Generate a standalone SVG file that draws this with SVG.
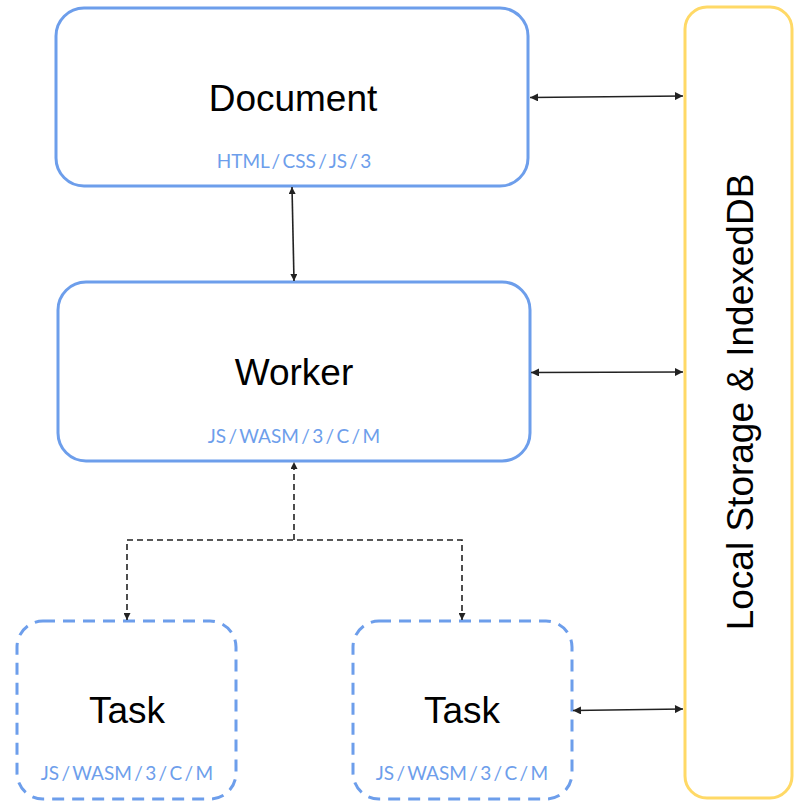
<svg xmlns="http://www.w3.org/2000/svg" width="802" height="802" viewBox="0 0 802 802">
<style>
.box{fill:#fff;stroke:#6d9eeb;stroke-width:3}
.dash{stroke-dasharray:12 8}
.title{font-family:"Liberation Sans",Arial,sans-serif;font-size:37px;fill:#000;text-anchor:middle}
.sub{font-family:Lato,"Liberation Sans",sans-serif;font-size:19px;word-spacing:-2.5px;fill:#6d9eeb;text-anchor:middle}
.conn{fill:none;stroke:#222;stroke-width:1.6}
</style>
<defs>
<marker id="ah" viewBox="0 0 10 10" refX="10" refY="5" markerWidth="7" markerHeight="7" orient="auto-start-reverse" markerUnits="userSpaceOnUse"><path d="M0,0 L10,5 L0,10 z" fill="#222"/></marker>
<marker id="ah2" viewBox="0 0 10 10" refX="10" refY="5" markerWidth="11" markerHeight="8" orient="auto-start-reverse" markerUnits="userSpaceOnUse"><path d="M0,0 L10,5 L0,10 z" fill="#222"/></marker>
</defs>
<rect width="802" height="802" fill="#fff"/>
<g id="storage">
<rect x="685" y="7" width="107" height="791" rx="22" fill="#fff" stroke="#ffd966" stroke-width="3"/>
<text class="title" transform="translate(753,402) rotate(-90)">Local Storage &amp; IndexedDB</text>
</g>
<g id="document">
<rect class="box" x="56" y="8" width="472" height="178" rx="28"/>
<text class="title" x="293" y="111">Document</text>
<text class="sub" x="294" y="168">HTML / CSS / JS / 3</text>
</g>
<g id="worker">
<rect class="box" x="58" y="282" width="472" height="179" rx="28"/>
<text class="title" x="294" y="385">Worker</text>
<text class="sub" x="294" y="443">JS / WASM / 3 / C / M</text>
</g>
<g id="task1">
<rect class="box dash" x="17" y="621" width="219" height="178" rx="26"/>
<text class="title" x="127" y="723">Task</text>
<text class="sub" x="127" y="780">JS / WASM / 3 / C / M</text>
</g>
<g id="task2">
<rect class="box dash" x="353" y="621" width="219" height="178" rx="26"/>
<text class="title" x="462" y="723">Task</text>
<text class="sub" x="462" y="780">JS / WASM / 3 / C / M</text>
</g>
<g id="connectors">
<path class="conn" d="M530,97.5 L683,96" marker-start="url(#ah2)" marker-end="url(#ah2)"/>
<path class="conn" d="M531,372.5 L683,372" marker-start="url(#ah2)" marker-end="url(#ah2)"/>
<path class="conn" d="M573,710.5 L683,709" marker-start="url(#ah2)" marker-end="url(#ah2)"/>
<path class="conn" d="M292,187 L294,281" marker-start="url(#ah)" marker-end="url(#ah)"/>
<path class="conn" d="M294,540 L294,462" stroke-dasharray="6 4" marker-end="url(#ah)"/>
<path class="conn" d="M127,620 L127,540 L462,540 L462,620" stroke-dasharray="6 4" marker-start="url(#ah)" marker-end="url(#ah)"/>
</g>
</svg>
